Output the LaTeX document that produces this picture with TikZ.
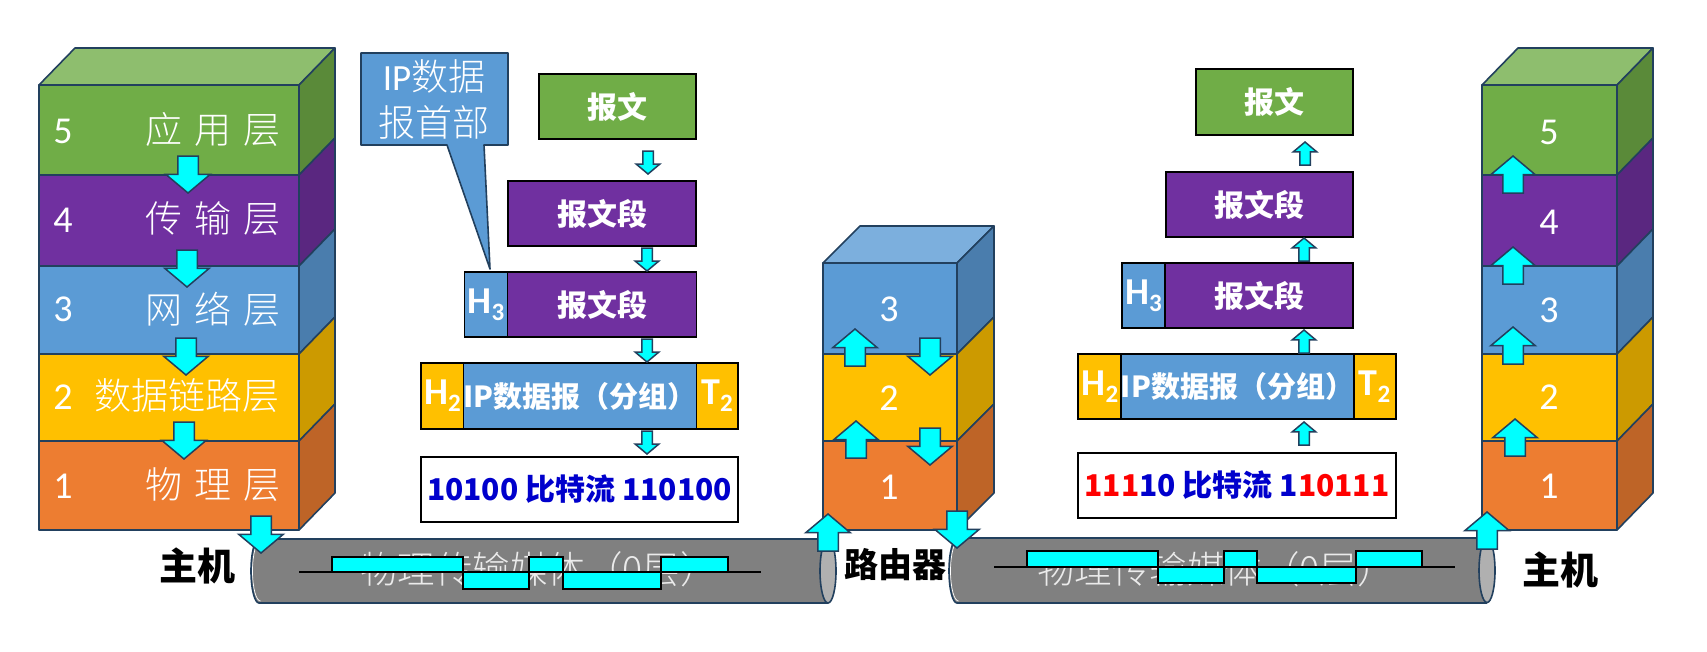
\documentclass[tikz,border=0pt]{standalone}
\usepackage{fontspec}
\usetikzlibrary{shapes.arrows}
\setmainfont{Carlito}
\newfontfamily\cnlight{Noto Sans CJK SC Light}
\newfontfamily\cn{Noto Sans CJK SC}
\definecolor{edge}{HTML}{22405E}
\definecolor{sigcyan}{HTML}{00FFFF}
\definecolor{appf}{HTML}{70AD47}\definecolor{apps}{HTML}{5A8A39}\definecolor{appt}{HTML}{8EBE6E}
\definecolor{trnf}{HTML}{7030A0}\definecolor{trns}{HTML}{5A2780}
\definecolor{netf}{HTML}{5B9BD5}\definecolor{nets}{HTML}{4A7DAD}\definecolor{nett}{HTML}{7CAFDD}
\definecolor{lnkf}{HTML}{FFC000}\definecolor{lnks}{HTML}{CC9A00}
\definecolor{phyf}{HTML}{ED7D31}\definecolor{phys}{HTML}{BE6427}
\definecolor{bitblue}{HTML}{0000CC}
\tikzset{
  face/.style={draw=edge,line width=1.6pt,line join=round},
  msgbox/.style={draw=black,line width=1.4pt,inner sep=0pt,outer sep=0pt,text=white,font=\fontsize{30}{34}\selectfont\cn\bfseries},
  dgrambox/.style={msgbox,font=\fontsize{29}{34}\selectfont\cn\bfseries},
  tagbox/.style={msgbox,font=\fontsize{38}{40}\selectfont\bfseries},
  layertxt/.style={anchor=east,inner sep=0pt,text=white,font=\fontsize{37}{40}\selectfont\cnlight},
  laynum/.style={inner sep=0pt,text=white,font=\fontsize{38}{42}\selectfont},
  devtxt/.style={inner sep=0pt,font=\fontsize{38}{42}\selectfont\cn\bfseries},
  pipetxt/.style={inner sep=0pt,text=white!92!black,font=\fontsize{37.5}{40}\selectfont\cnlight},
  blockarrow/.style={single arrow,draw=edge,fill=sigcyan,line width=1.5pt,anchor=tip,outer sep=0pt,inner ysep=0pt,single arrow tip angle=100},
  bigarrow/.style={blockarrow,minimum height=37,minimum width=43,inner xsep=9.5pt,single arrow head extend=12pt},
  tinyarrow/.style={blockarrow,minimum height=23,minimum width=23,inner xsep=4.5pt,single arrow head extend=6.5pt},
  goesdown/.style={shape border rotate=270},
  goesup/.style={shape border rotate=90},
  pulse/.style={draw=black,fill=sigcyan,line width=1.5pt},
  sigline/.style={draw=black,line width=1.5pt}
}
\newcommand{\hdrtag}[2]{#1\raisebox{-7pt}{\fontsize{25}{25}\selectfont #2}}
\newcommand{\gapped}[3]{#1\hspace{12pt}#2\hspace{12pt}#3}
% one pipe: left, right, top, bottom
\newcommand{\pipebody}[4]{%
  \fill[fill=black!50] (#1+8,#3) -- (#2,#3) -- (#2,#4) -- (#1+8,#4) arc[start angle=270,end angle=90,x radius=8pt,y radius=32pt] -- cycle;
  \draw[white,line width=.7pt] (#1+9.5,#4-2) arc[start angle=270,end angle=90,x radius=8pt,y radius=30pt];
  \draw[face] (#1+8,#3) -- (#2,#3) (#2,#4) -- (#1+8,#4) arc[start angle=270,end angle=90,x radius=8pt,y radius=32pt];
  \draw[face,fill=black!31] (#2,#3/2+#4/2) ellipse[x radius=8pt,y radius=32pt];
}
\begin{document}
\begin{tikzpicture}[x=1pt,y=-1pt]
  \path[fill=white,use as bounding box] (0,0) rectangle (1707,651);

  % stacks
  \foreach \xl/\xr in {39/299,1482/1617}{
    \draw[face,fill=appt] (\xl,85) -- (\xl+36,48) -- (\xr+36,48) -- (\xr,85) -- cycle;
    \foreach \yt/\yb/\cf/\cs in {85/175/appf/apps,175/266/trnf/trns,266/354/netf/nets,354/441/lnkf/lnks,441/530/phyf/phys}{
      \draw[face,fill=\cs] (\xr,\yt) -- (\xr+36,\yt-37) -- (\xr+36,\yb-37) -- (\xr,\yb) -- cycle;
      \draw[face,fill=\cf] (\xl,\yt) rectangle (\xr,\yb);
    }
  }
  \draw[face,fill=nett] (823,263) -- (860,226) -- (994,226) -- (957,263) -- cycle;
  \foreach \yt/\yb/\cf/\cs in {263/354/netf/nets,354/441/lnkf/lnks,441/530/phyf/phys}{
    \draw[face,fill=\cs] (957,\yt) -- (994,\yt-37) -- (994,\yb-37) -- (957,\yb) -- cycle;
    \draw[face,fill=\cf] (823,\yt) rectangle (957,\yb);
  }

  \node[laynum] at (63,131) (numA5) {5};
  \node[laynum] at (63,220) (numA4) {4};
  \node[laynum] at (63,309) (numA3) {3};
  \node[laynum] at (63,397) (numA2) {2};
  \node[laynum] at (63,486) (numA1) {1};
  \node[layertxt] at (281,129) (appname) {\gapped{应}{用}{层}};
  \node[layertxt] at (281,219) (trnname) {\gapped{传}{输}{层}};
  \node[layertxt] at (281,309) (netname) {\gapped{网}{络}{层}};
  \node[layertxt] at (280,396) (lnkname) {数据链路层};
  \node[layertxt] at (281,485) (phyname) {\gapped{物}{理}{层}};

  \node[laynum] at (889,309) (numR3) {3};
  \node[laynum] at (889,398) (numR2) {2};
  \node[laynum] at (889,487) (numR1) {1};

  \node[laynum] at (1549,132) (numB5) {5};
  \node[laynum] at (1549,222) (numB4) {4};
  \node[laynum] at (1549,310) (numB3) {3};
  \node[laynum] at (1549,397) (numB2) {2};
  \node[laynum] at (1549,486) (numB1) {1};

  % pipes
  \pipebody{251}{828}{539}{603}
  \pipebody{949}{1487}{538}{603}
  \node[pipetxt] at (539,569) (pipetextA) {物理传输媒体（0层）};
  \node[pipetxt] at (1216,569) (pipetextB) {物理传输媒体（0层）};

  \foreach \a/\b in {332/463,529/563,661/728} \draw[pulse] (\a,557) rectangle (\b,572);
  \foreach \a/\b in {463/529,563/661} \draw[pulse] (\a,572) rectangle (\b,589);
  \draw[sigline] (299,572) -- (761,572);
  \foreach \a/\b in {1027/1158,1224/1257,1356/1422} \draw[pulse] (\a,551) rectangle (\b,567);
  \foreach \a/\b in {1158/1224,1257/1356} \draw[pulse] (\a,567) rectangle (\b,583);
  \draw[sigline] (994,567) -- (1455,567);

  \node[devtxt] at (197,566) (hostA) {主机};
  \node[devtxt,font=\fontsize{34}{38}\selectfont\cn\bfseries] at (895,565) (router) {路由器};
  \node[devtxt] at (1560,570) (hostB) {主机};

  % callout
  \draw[face,fill=netf] (361,53) -- (508,53) -- (508,145) -- (484,145) -- (490,269) -- (447,145) -- (361,145) -- cycle;
  \node[inner sep=0pt,text=white,align=center,font=\fontsize{37}{46}\selectfont] at (434,99) (iphead) {IP{\cnlight 数据}\\{\cnlight 报首部}};

  % left column
  \node[msgbox,fill=appf,minimum width=157,minimum height=65] at (617.5,106.5) (msgA) {报文};
  \node[msgbox,fill=trnf,minimum width=188,minimum height=65] at (602,213.5) (segA) {\raisebox{2pt}{报文段}};
  \node[tagbox,fill=netf,minimum width=43,minimum height=65] at (486,304.5) (hthreeA) {\hdrtag{H}{3}};
  \node[msgbox,fill=trnf,minimum width=189,minimum height=65] at (602,304.5) (segB) {报文段};
  \node[tagbox,fill=lnkf,minimum width=43,minimum height=66] at (442.5,396) (htwoA) {\hdrtag{H}{2}};
  \node[tagbox,fill=lnkf,minimum width=42,minimum height=66] at (717,396) (ttwoA) {\hdrtag{T}{2}};
  \node[dgrambox,fill=netf,minimum width=232,minimum height=66] at (580,396) (dgramA) {IP数据报（分组）};
  \node[msgbox,fill=white,text=bitblue,minimum width=317,minimum height=65,line width=1.2pt] at (579.5,489.5) (bitsA) {10100 比特流 110100};

  % right column
  \node[msgbox,fill=appf,minimum width=157,minimum height=66] at (1274.5,102) (msgB) {报文};
  \node[msgbox,fill=trnf,minimum width=187,minimum height=65] at (1259.5,204.5) (segC) {报文段};
  \node[msgbox,fill=trnf,minimum width=188,minimum height=65] at (1259,295.5) (segD) {报文段};
  \node[tagbox,fill=netf,minimum width=43,minimum height=65] at (1143.5,295.5) (hthreeB) {\hdrtag{H}{3}};
  \node[tagbox,fill=lnkf,minimum width=44,minimum height=65] at (1100,386.5) (htwoB) {\hdrtag{H}{2}};
  \node[tagbox,fill=lnkf,minimum width=43,minimum height=65] at (1374.5,386.5) (ttwoB) {\hdrtag{T}{2}};
  \node[dgrambox,fill=netf,minimum width=231,minimum height=65] at (1237.5,386.5) (dgramB) {IP数据报（分组）};
  \node[msgbox,fill=white,text=bitblue,minimum width=318,minimum height=65,line width=1.2pt] at (1237,485.5) (bitsB) {{\color{red}111}10 比特流 1{\color{red}10111}};

  % block arrows
  \node[bigarrow,goesdown] at (188,193) (downA) {};
  \node[bigarrow,goesdown] at (187,287) (downB) {};
  \node[bigarrow,goesdown] at (186,375) (downC) {};
  \node[bigarrow,goesdown] at (184,459) (downD) {};
  \node[bigarrow,goesdown] at (261,553) (downE) {};

  \node[tinyarrow,goesdown] at (648,174) (tinyA) {};
  \node[tinyarrow,goesdown] at (647,271) (tinyB) {};
  \node[tinyarrow,goesdown] at (647,362) (tinyC) {};
  \node[tinyarrow,goesdown] at (647,454) (tinyD) {};

  \node[bigarrow,goesup] at (855,329) (rupA) {};
  \node[bigarrow,goesup] at (856,421) (rupB) {};
  \node[bigarrow,goesdown] at (930,375) (rdownA) {};
  \node[bigarrow,goesdown] at (930,465) (rdownB) {};
  \node[bigarrow,goesup] at (828,514) (rupC) {};
  \node[bigarrow,goesdown] at (957,548) (rdownC) {};

  \node[tinyarrow,goesup] at (1305,142) (tinyE) {};
  \node[tinyarrow,goesup] at (1304,238) (tinyF) {};
  \node[tinyarrow,goesup] at (1304,330) (tinyG) {};
  \node[tinyarrow,goesup] at (1304,422) (tinyH) {};

  \node[bigarrow,goesup] at (1513,156) (upA) {};
  \node[bigarrow,goesup] at (1513,247) (upB) {};
  \node[bigarrow,goesup] at (1513,327) (upC) {};
  \node[bigarrow,goesup] at (1515,419) (upD) {};
  \node[bigarrow,goesup] at (1487,512) (upE) {};
\end{tikzpicture}
\end{document}
